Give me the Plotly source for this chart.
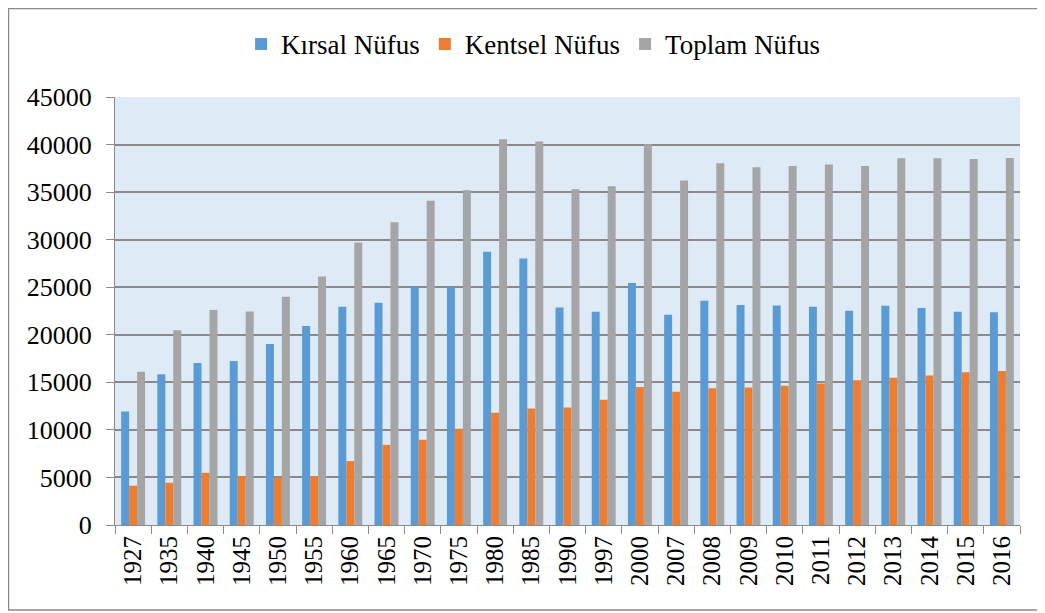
import plotly.graph_objects as go

years = ["1927", "1935", "1940", "1945", "1950", "1955", "1960", "1965", "1970",
         "1975", "1980", "1985", "1990", "1997", "2000", "2007", "2008", "2009",
         "2010", "2011", "2012", "2013", "2014", "2015", "2016"]

kirsal = [11930, 15850, 17040, 17250, 19030, 20920, 22950, 23370, 25020,
          24980, 28730, 28030, 22880, 22430, 25440, 22110, 23580, 23130,
          23090, 22950, 22530, 23060, 22810, 22430, 22360]

kentsel = [4130, 4440, 5490, 5140, 4970, 5140, 6720, 8430, 8960,
           10110, 11790, 12250, 12350, 13160, 14520, 14000, 14380, 14450,
           14630, 14870, 15220, 15470, 15710, 16060, 16200]

toplam = [16100, 20470, 22600, 22460, 24000, 26140, 29700, 31840, 34080,
          35200, 40550, 40310, 35300, 35620, 40030, 36210, 38030, 37610,
          37750, 37890, 37750, 38560, 38560, 38490, 38590]

series = [("Kırsal Nüfus", kirsal, "#5B9BD5"),
          ("Kentsel Nüfus", kentsel, "#ED7D31"),
          ("Toplam Nüfus", toplam, "#A5A5A5")]

font_family = "Times New Roman, Liberation Serif, DejaVu Serif, serif"
axis_grey = "#8A8A8A"

fig = go.Figure()
for name, vals, color in series:
    fig.add_trace(go.Bar(x=years, y=vals, name=name, marker_color=color,
                         marker_line_width=0))

# page body has an 8px margin, so the figure is a bit smaller than the window
fig.update_layout(
    width=1037, height=605,
    margin=dict(l=107, r=25, t=89, b=88, autoexpand=False),
    paper_bgcolor="white",
    plot_bgcolor="#DEEAF6",
    barmode="group",
    bargap=0.34,
    bargroupgap=0,
    font=dict(family=font_family, color="black"),
    showlegend=True,
    # legend is centred on the whole chart box, not on the plot area
    legend=dict(orientation="h", x=0.462, xanchor="center", y=1.123, yanchor="middle",
                font=dict(size=27, family=font_family), bgcolor="rgba(0,0,0,0)",
                traceorder="normal", itemwidth=30),
)

fig.update_xaxes(
    type="category",
    tickangle=-90,
    tickfont=dict(size=25, family=font_family),
    showline=True, linecolor=axis_grey, linewidth=1,
    ticks="outside", tickson="boundaries", ticklen=8, tickcolor=axis_grey,
    showgrid=False,
)

fig.update_yaxes(
    range=[0, 45000],
    dtick=5000,
    tickfont=dict(size=26, family=font_family),
    showline=True, linecolor=axis_grey, linewidth=1,
    ticks="outside", ticklen=8, tickcolor=axis_grey,
    ticklabelstandoff=9,
    showgrid=True, gridcolor=axis_grey, gridwidth=1.5,
    zeroline=False,
    tickformat="d",
)

# outer chart border
fig.add_shape(type="rect", xref="paper", yref="paper",
              x0=-0.1177, x1=1.0221, y0=-0.1986, y1=1.2068,
              line=dict(color=axis_grey, width=1.5), fillcolor="rgba(0,0,0,0)")

fig.write_html("out.html")
